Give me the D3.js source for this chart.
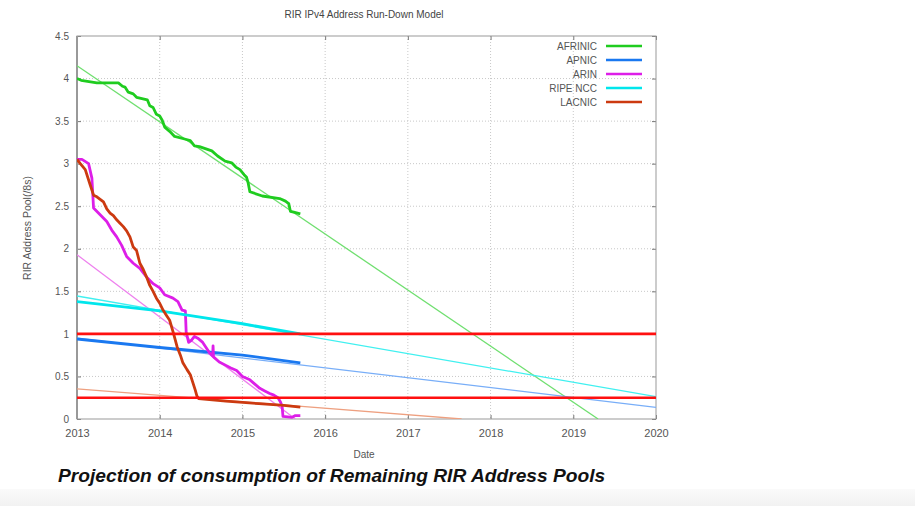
<!DOCTYPE html>
<html>
<head>
<meta charset="utf-8">
<script src="https://cdn.jsdelivr.net/npm/d3@7"></script>
<style>
  body { margin: 0; background: #fff; }
  svg { display: block; font-family: "Liberation Sans", Arial, sans-serif; }
</style>
</head>
<body>
<svg id="chart" width="915" height="506"></svg>
<script>
// axis values
const years = [2013, 2014, 2015, 2016, 2017, 2018, 2019, 2020]
const poolTicks = [0, 0.5, 1, 1.5, 2, 2.5, 3, 3.5, 4, 4.5]

const regions = ["AFRINIC", "APNIC", "ARIN", "RIPE NCC", "LACNIC"]
const regionColors = ["#1fcc1f", "#1a78f0", "#dd1ee8", "#00e6ec", "#cc3a10"]
const trendColors = ["#70df70", "#78aef8", "#ee80ee", "#40f0f0", "#eea080"]

// remaining pool, [year, /8s]
const afrinic = [[2013.0, 4.0], [2013.05, 3.98], [2013.24, 3.95], [2013.5, 3.95], [2013.55, 3.91], [2013.58, 3.9],
  [2013.62, 3.84], [2013.68, 3.82], [2013.72, 3.78], [2013.85, 3.75], [2013.88, 3.68], [2013.92, 3.66],
  [2013.96, 3.58], [2014.0, 3.56], [2014.03, 3.51], [2014.06, 3.43], [2014.12, 3.38], [2014.18, 3.32],
  [2014.3, 3.29], [2014.37, 3.27], [2014.42, 3.21], [2014.48, 3.2], [2014.63, 3.15], [2014.7, 3.09],
  [2014.79, 3.03], [2014.87, 3.01], [2014.92, 2.96], [2014.97, 2.93], [2015.02, 2.87], [2015.05, 2.84],
  [2015.07, 2.77], [2015.09, 2.67], [2015.24, 2.62], [2015.45, 2.59], [2015.52, 2.56], [2015.56, 2.53],
  [2015.58, 2.44], [2015.62, 2.43], [2015.7, 2.41]]
const apnic = [[2013.0, 0.94], [2014.0, 0.84], [2015.0, 0.75], [2015.7, 0.66]]
const arin = [[2013.0, 3.05], [2013.06, 3.05], [2013.14, 3.0], [2013.18, 2.83], [2013.2, 2.48], [2013.28, 2.4],
  [2013.36, 2.32], [2013.42, 2.22], [2013.48, 2.14], [2013.54, 2.04], [2013.6, 1.91], [2013.68, 1.83],
  [2013.76, 1.77], [2013.84, 1.67], [2013.92, 1.59], [2014.0, 1.54], [2014.06, 1.46], [2014.16, 1.42],
  [2014.22, 1.38], [2014.27, 1.28], [2014.31, 1.27], [2014.32, 1.02], [2014.35, 0.9], [2014.38, 0.92],
  [2014.42, 0.97], [2014.46, 0.95], [2014.52, 0.9], [2014.56, 0.84], [2014.6, 0.78], [2014.64, 0.74],
  [2014.645, 0.86], [2014.65, 0.73], [2014.72, 0.67], [2014.8, 0.63], [2014.86, 0.6], [2014.93, 0.57],
  [2015.0, 0.5], [2015.09, 0.46], [2015.15, 0.41], [2015.21, 0.36], [2015.27, 0.33], [2015.33, 0.3],
  [2015.38, 0.28], [2015.43, 0.25], [2015.46, 0.2], [2015.48, 0.15], [2015.49, 0.03], [2015.6, 0.02],
  [2015.64, 0.04], [2015.7, 0.04]]
const ripe = [[2013.0, 1.38], [2014.0, 1.27], [2015.0, 1.12], [2015.7, 1.0]]
const lacnic = [[2013.0, 3.05], [2013.04, 3.0], [2013.1, 2.93], [2013.16, 2.75], [2013.2, 2.63], [2013.24, 2.61],
  [2013.28, 2.58], [2013.32, 2.55], [2013.36, 2.47], [2013.4, 2.42], [2013.44, 2.39], [2013.48, 2.34],
  [2013.52, 2.3], [2013.56, 2.26], [2013.6, 2.21], [2013.64, 2.14], [2013.68, 2.02], [2013.72, 1.98],
  [2013.76, 1.83], [2013.8, 1.76], [2013.84, 1.67], [2013.88, 1.57], [2013.92, 1.5], [2013.96, 1.42],
  [2014.0, 1.36], [2014.04, 1.28], [2014.08, 1.22], [2014.12, 1.16], [2014.16, 1.03], [2014.21, 0.85],
  [2014.25, 0.75], [2014.28, 0.66], [2014.33, 0.58], [2014.37, 0.52], [2014.39, 0.46], [2014.43, 0.34],
  [2014.45, 0.27], [2014.47, 0.24], [2014.8, 0.21], [2015.2, 0.18], [2015.5, 0.16], [2015.7, 0.14]]
const series = [afrinic, apnic, arin, ripe, lacnic]

// linear run-down projections
const trends = [
  [[2013, 4.15], [2019.3, 0]],
  [[2013, 0.95], [2020, 0.137]],
  [[2013, 1.93], [2015.64, 0]],
  [[2013, 1.445], [2020, 0.262]],
  [[2013, 0.355], [2017.65, 0]]
]
const thresholds = [1, 0.25]

const svg = d3.select("#chart")
const plotLeft = 77, plotRight = 656, plotTop = 36, plotBottom = 419

const x = d3.scaleLinear().domain([2013, 2020]).range([plotLeft, plotRight])
const y = d3.scaleLinear().domain([0, 4.5]).range([plotBottom, plotTop])
const line = d3.line().x(d => x(d[0])).y(d => y(d[1]))

// light footer strip
const fade = svg.append("defs").append("linearGradient").attr("id", "fade")
  .attr("x1", 0).attr("y1", 0).attr("x2", 0).attr("y2", 1)
fade.append("stop").attr("offset", 0).attr("stop-color", "#fafafa")
fade.append("stop").attr("offset", 1).attr("stop-color", "#f2f2f2")
svg.append("rect").attr("x", 0).attr("y", 489).attr("width", 915).attr("height", 17).attr("fill", "url(#fade)")

svg.append("clipPath").attr("id", "plot")
  .append("rect").attr("x", plotLeft).attr("y", plotTop)
  .attr("width", plotRight - plotLeft).attr("height", plotBottom - plotTop)

// grid
const grid = svg.append("g").attr("stroke", "#c8c8c8").attr("stroke-dasharray", "1,2")
grid.selectAll(".vx").data(years.slice(1, -1)).enter().append("line")
  .attr("x1", d => x(d)).attr("x2", d => x(d)).attr("y1", plotTop).attr("y2", plotBottom)
grid.selectAll(".hy").data(poolTicks.slice(1, -1)).enter().append("line")
  .attr("x1", plotLeft).attr("x2", plotRight).attr("y1", d => y(d)).attr("y2", d => y(d))

// axes, ticks pointing inward like gnuplot
const tickFmt = d3.format("~g")
const axisStyle = g => {
  g.select(".domain").remove()
  g.selectAll(".tick line").attr("stroke", "#777")
  g.selectAll(".tick text").attr("fill", "#555").attr("font-size", 10)
}
svg.append("g").attr("transform", `translate(${plotLeft},0)`)
  .call(d3.axisLeft(y).tickValues(poolTicks).tickFormat(tickFmt).tickSize(-4).tickPadding(8))
  .call(axisStyle)
svg.append("g").attr("transform", `translate(${plotRight},0)`)
  .call(d3.axisRight(y).tickValues(poolTicks).tickFormat("").tickSize(-4))
  .call(axisStyle)
svg.append("g").attr("transform", `translate(0,${plotBottom})`)
  .call(d3.axisBottom(x).tickValues(years).tickFormat(d3.format("d")).tickSize(-4).tickPadding(10))
  .call(axisStyle)
  .selectAll(".tick text").attr("font-size", 11)
svg.append("g").attr("transform", `translate(0,${plotTop})`)
  .call(d3.axisTop(x).tickValues(years).tickFormat("").tickSize(-4))
  .call(axisStyle)

// border
svg.append("rect").attr("x", plotLeft).attr("y", plotTop)
  .attr("width", plotRight - plotLeft).attr("height", plotBottom - plotTop)
  .attr("fill", "none").attr("stroke", "#999").attr("stroke-width", 1)
svg.append("line").attr("x1", plotLeft).attr("x2", plotLeft).attr("y1", plotTop).attr("y2", plotBottom)
  .attr("stroke", "#999").attr("stroke-width", 2)

const plot = svg.append("g").attr("clip-path", "url(#plot)")

plot.selectAll(".trend").data(trends).enter().append("path")
  .attr("d", line).attr("fill", "none")
  .attr("stroke", (d, i) => trendColors[i]).attr("stroke-width", 1.3)

plot.selectAll(".pool").data(series).enter().append("path")
  .attr("d", line).attr("fill", "none")
  .attr("stroke", (d, i) => regionColors[i]).attr("stroke-width", 2.8)
  .attr("stroke-linejoin", "round")

plot.selectAll(".limit").data(thresholds).enter().append("line")
  .attr("x1", plotLeft).attr("x2", plotRight).attr("y1", d => y(d)).attr("y2", d => y(d))
  .attr("stroke", "#ff1010").attr("stroke-width", 2.6)

// legend
const legend = svg.append("g").selectAll("g").data(regions).enter().append("g")
  .attr("transform", (d, i) => `translate(0,${46 + i * 14})`)
legend.append("text").attr("x", 597).attr("y", 3.5).attr("text-anchor", "end")
  .attr("font-size", 10).attr("fill", "#555").text(d => d)
legend.append("line").attr("x1", 606).attr("x2", 642)
  .attr("stroke", (d, i) => regionColors[i]).attr("stroke-width", 2.6)

// titles
svg.append("text").attr("x", 364).attr("y", 18).attr("text-anchor", "middle")
  .attr("font-size", 10).attr("fill", "#444").text("RIR IPv4 Address Run-Down Model")
svg.append("text").attr("x", 364).attr("y", 458).attr("text-anchor", "middle")
  .attr("font-size", 10).attr("fill", "#555").text("Date")
svg.append("text").attr("transform", "translate(31,228) rotate(-90)").attr("text-anchor", "middle")
  .attr("font-size", 10.5).attr("fill", "#555").text("RIR Address Pool(/8s)")
svg.append("text").attr("x", 58).attr("y", 482)
  .attr("font-size", 19.2).attr("font-weight", "bold").attr("font-style", "italic").attr("fill", "#111")
  .text("Projection of consumption of Remaining RIR Address Pools")
</script>
</body>
</html>
